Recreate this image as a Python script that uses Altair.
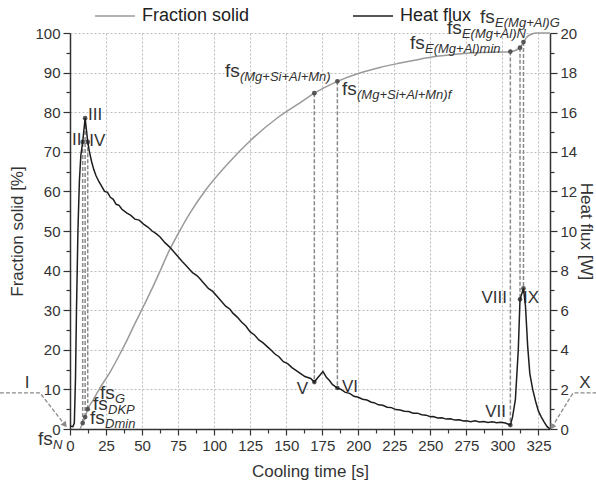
import altair as alt
import pandas as pd

FONT = "Liberation Sans"
GRAY = "#9a9a9a"
BLACK = "#1e1e1e"
DASH = "#8a8a8a"
TXT = "#333333"

series_names = ["Fraction solid", "Heat flux"]

# Fraction solid curve: cooling time [s] -> fraction solid [%]
fs_time = [7, 8.8, 10.5, 12.3, 16, 20, 28, 34, 39.5, 45, 51, 57, 62.5, 68, 75, 83, 94,
           109, 125, 144, 160, 169.5, 185.5, 201, 215, 229, 240, 252, 264, 275, 287,
           298, 305.5, 312.2, 314.6, 317, 320, 324, 333]
fs_vals = [0, 1.5, 3, 5, 7.3, 9.9, 14.5, 18.5, 22.4, 26.6, 31, 35.5, 39.9, 44.4, 49.3,
           54.4, 60.3, 66.8, 72.8, 78.6, 82.5, 84.8, 87.8, 89.9, 91.3, 92.4, 93.2, 94,
           94.5, 94.9, 95.1, 95.2, 95.3, 96.3, 97.7, 99, 99.7, 100, 100]

# Heat flux curve: cooling time [s] -> heat flux [W]
hf_time = [0, 2, 3, 3.8, 4.5, 5.5, 6.5, 7.5, 8.8, 10.5, 12.3, 13.5, 15, 16.5, 18, 20,
           22, 24, 26, 28, 30, 32, 34, 36, 39.5, 42, 45, 48, 51, 54, 57, 60, 62.5, 66,
           69, 72, 75, 78, 80, 83, 85, 88, 90, 93, 96, 99, 102, 105, 108, 111, 113, 116,
           119, 122, 125, 128, 131, 134, 137, 140, 142, 145, 148, 151, 154, 157, 160,
           163, 165, 167, 169.5, 172, 175.5, 178, 180, 182, 185.5, 188, 191, 194, 197,
           200, 203, 206, 209, 211, 214, 217, 220, 223, 226, 229, 232, 235, 238, 241,
           244, 247, 250, 252, 255, 258, 261, 264, 267, 270, 273, 275, 278, 281, 284,
           287, 290, 293, 296, 299, 302, 305.5, 307, 309, 311, 312.2, 314.6, 316, 317.5,
           319, 321, 323, 325, 327, 329, 331, 333]
hf_vals = [0.15, 0.12, 0.3, 2.5, 6, 10, 12.5, 13.8, 14.5, 15.7, 14.5, 14.0, 13.5, 13.1,
           12.8, 12.5, 12.25, 12.0, 11.95, 11.7, 11.6, 11.35, 11.3, 11.1, 10.9, 10.8,
           10.6, 10.55, 10.35, 10.2, 10.0, 9.85, 9.7, 9.4, 9.2, 8.95, 8.7, 8.45, 8.3,
           8.05, 7.9, 7.75, 7.6, 7.35, 7.1, 6.95, 6.7, 6.45, 6.2, 6.05, 5.85, 5.65, 5.4,
           5.2, 4.9, 4.75, 4.5, 4.35, 4.15, 3.95, 3.8, 3.65, 3.4, 3.3, 3.1, 2.95, 2.8,
           2.65, 2.6, 2.55, 2.37, 2.6, 2.9, 2.6, 2.45, 2.25, 2.07, 2.0, 1.85, 1.8, 1.65,
           1.6, 1.5, 1.46, 1.35, 1.33, 1.22, 1.2, 1.1, 1.08, 0.98, 0.96, 0.9, 0.88, 0.8,
           0.8, 0.72, 0.7, 0.62, 0.63, 0.56, 0.57, 0.5, 0.52, 0.45, 0.47, 0.4, 0.42, 0.37,
           0.42, 0.36, 0.38, 0.33, 0.37, 0.32, 0.34, 0.3, 0.2, 0.6, 1.5, 4.0, 6.55, 7.1,
           6.2, 4.2, 2.8, 2.0, 1.4, 0.9, 0.6, 0.35, 0.12, 0.0]

# Characteristic points (fs point on the gray curve, matching point on the heat flux curve)
event_time = [8.8, 10.5, 12.3, 169.5, 185.5, 305.5, 312.2, 314.6]
event_fs = [1.5, 3, 5, 84.8, 87.8, 95.3, 96.3, 97.7]
event_hf = [14.5, 15.7, 14.5, 2.37, 2.07, 0.2, 6.55, 7.1]

# Axis domains / ticks
x_domain = [0, 333]
fs_domain = [0, 100]
hf_domain = [0, 20]
x_ticks = [i * 12.5 for i in range(27)]
fs_ticks = [i * 5 for i in range(21)]
hf_ticks = list(range(21))

# fs labels (main "fs" + subscript), anchored at the left/middle of "fs"
fs_sub = ["N", "Dmin", "DKP", "G", "(Mg+Si+Al+Mn)", "(Mg+Si+Al+Mn)f",
          "E(Mg+Al)min", "E(Mg+Al)N", "E(Mg+Al)G"]
fs_lab_t = [-22.2, 13.9, 15.95, 20.8, 107.5, 188.7, 235.9, 261.5, 284.5]
fs_lab_y = [-2.5, 2.8, 6.3, 9.1, 90.4, 85.9, 97.5, 101.3, 104.0]

# Roman numeral labels, grouped by alignment
rom_left = ["III", "IV", "VI", "IX"]
rom_left_t = [12.5, 13.4, 188.7, 314.3]
rom_left_y = [79.3, 72.7, 10.6, 33.1]
rom_right = ["II", "VII", "VIII"]
rom_right_t = [8.0, 302.5, 303.2]
rom_right_y = [73, 4.3, 33.1]
rom_center = ["I", "V", "X"]
rom_center_t = [-29.8, 161.3, 357.3]
rom_center_y = [11.6, 10.1, 11.6]

# Leader arrows for I and X
arrow_I_t = [-48.6, -20.8, -3.5]
arrow_I_y = [9.1, 9.1, 1.0]
arrow_X_t = [365.3, 349.0, 334.4]
arrow_X_y = [9.1, 9.1, 0.5]

ratio = (fs_domain[1] - fs_domain[0]) / (hf_domain[1] - hf_domain[0])

fs_df = pd.DataFrame({"t": fs_time, "v": fs_vals, "series": series_names[0]})
hf_df = pd.DataFrame({"t": hf_time, "v": hf_vals, "series": series_names[1]})
ev_df = pd.DataFrame({"t": event_time, "fs": event_fs,
                      "hfs": [h * ratio for h in event_hf]})
lab_df = pd.DataFrame({"t": fs_lab_t, "y": fs_lab_y, "sub": fs_sub, "fs": "fs"})
rl_df = pd.DataFrame({"t": rom_left_t, "y": rom_left_y, "txt": rom_left})
rr_df = pd.DataFrame({"t": rom_right_t, "y": rom_right_y, "txt": rom_right})
rc_df = pd.DataFrame({"t": rom_center_t, "y": rom_center_y, "txt": rom_center})
arr_df = pd.DataFrame({"t": arrow_I_t + arrow_X_t, "y": arrow_I_y + arrow_X_y,
                       "k": ["I"] * 3 + ["X"] * 3, "o": [0, 1, 2] * 2})

x_enc = alt.X("t:Q", scale=alt.Scale(domain=x_domain, nice=False, zero=False),
              axis=alt.Axis(values=x_ticks, title="Cooling time [s]",
                            labelExpr="datum.value % 25 === 0 ? datum.label : ''",
                            tickSize={"condition": {"test": "datum.value % 25 === 0", "value": 6}, "value": 4},
                            gridOpacity={"condition": {"test": "datum.value % 25 === 0", "value": 1}, "value": 0},
                            labelPadding=3, titlePadding=10, labelFlush=False))

fs_scale = alt.Scale(domain=fs_domain, nice=False, zero=False)
y_fs_axis = alt.Axis(values=fs_ticks, title="Fraction solid [%]",
                     labelExpr="datum.value % 10 === 0 ? datum.label : ''",
                     tickSize={"condition": {"test": "datum.value % 10 === 0", "value": 7}, "value": 4},
                     gridOpacity={"condition": {"test": "datum.value % 10 === 0", "value": 1}, "value": 0},
                     labelPadding=3, titlePadding=8)

color_enc = alt.Color("series:N",
                      scale=alt.Scale(domain=series_names, range=[GRAY, BLACK]),
                      legend=alt.Legend(orient="none", legendX=24, legendY=-38,
                                        direction="horizontal", title=None,
                                        symbolType="stroke", symbolSize=1600,
                                        symbolStrokeWidth=1.5, labelFontSize=18,
                                        labelFont=FONT, labelColor="#222",
                                        columnPadding=100, labelOffset=6))

fs_line = alt.Chart(fs_df).mark_line(strokeWidth=1.5, interpolate="monotone").encode(
    x=x_enc, y=alt.Y("v:Q", scale=fs_scale, axis=y_fs_axis), color=color_enc)

rules = alt.Chart(ev_df).mark_rule(color=DASH, strokeDash=[4, 2], strokeWidth=1.5).encode(
    x=x_enc, y=alt.Y("fs:Q", scale=fs_scale, axis=y_fs_axis), y2="hfs:Q")

pts_fs = alt.Chart(ev_df).mark_circle(size=22, color="#555", opacity=1).encode(
    x=x_enc, y=alt.Y("fs:Q", scale=fs_scale, axis=y_fs_axis))
pts_hf = alt.Chart(ev_df).mark_circle(size=22, color="#555", opacity=1).encode(
    x=x_enc, y=alt.Y("hfs:Q", scale=fs_scale, axis=y_fs_axis))

arrows = alt.Chart(arr_df).mark_line(color=DASH, strokeDash=[4, 2], strokeWidth=1.3, clip=False).encode(
    x=x_enc, y=alt.Y("y:Q", scale=fs_scale, axis=y_fs_axis), detail="k:N", order="o:Q")
head_I = alt.Chart(arr_df).transform_filter("datum.k === 'I' && datum.o === 2").mark_point(
    shape="triangle-up", filled=True, size=45, color=DASH, opacity=1, angle=142, clip=False).encode(
    x=x_enc, y=alt.Y("y:Q", scale=fs_scale, axis=y_fs_axis))
head_X = alt.Chart(arr_df).transform_filter("datum.k === 'X' && datum.o === 2").mark_point(
    shape="triangle-up", filled=True, size=45, color=DASH, opacity=1, angle=212, clip=False).encode(
    x=x_enc, y=alt.Y("y:Q", scale=fs_scale, axis=y_fs_axis))

fs_txt = alt.Chart(lab_df).mark_text(align="left", baseline="middle", font=FONT,
                                     fontSize=19, color=TXT).encode(
    x=x_enc, y=alt.Y("y:Q", scale=fs_scale, axis=y_fs_axis), text="fs:N")
sub_txt = alt.Chart(lab_df).mark_text(align="left", baseline="middle", font=FONT,
                                      fontSize=13, fontStyle="italic", color=TXT,
                                      dx=15, dy=6).encode(
    x=x_enc, y=alt.Y("y:Q", scale=fs_scale, axis=y_fs_axis), text="sub:N")

def roman(df, align):
    return alt.Chart(df).mark_text(align=align, baseline="middle", font=FONT,
                                   fontSize=17, color=TXT).encode(
        x=x_enc, y=alt.Y("y:Q", scale=fs_scale, axis=y_fs_axis), text="txt:N")

left_layer = alt.layer(fs_line, rules, arrows, head_I, head_X, pts_fs, pts_hf,
                       fs_txt, sub_txt, roman(rl_df, "left"), roman(rr_df, "right"),
                       roman(rc_df, "center"))

hf_line = alt.Chart(hf_df).mark_line(strokeWidth=1.5).encode(
    x=x_enc,
    y=alt.Y("v:Q", scale=alt.Scale(domain=hf_domain, nice=False, zero=False),
            axis=alt.Axis(values=hf_ticks, title="Heat flux [W]", orient="right",
                          grid=False, titleAngle=90,
                          labelExpr="datum.value % 2 === 0 ? datum.label : ''",
                          tickSize={"condition": {"test": "datum.value % 2 === 0", "value": 7}, "value": 4},
                          labelPadding=3, titlePadding=0)),
    color=color_enc)

chart = alt.layer(left_layer, hf_line).resolve_scale(y="independent").properties(
    width=480, height=396,
    autosize=alt.AutoSizeParams(type="none"),
    padding={"left": 70, "top": 33, "right": 46, "bottom": 62},
    background="white",
).configure_axis(
    labelFont=FONT, titleFont=FONT, labelFontSize=15, titleFontSize=17,
    titleFontWeight="normal", labelColor=TXT, titleColor=TXT,
    domainColor="#333", tickColor="#333", domainWidth=1.5, tickWidth=1.2,
    gridColor="#bdbdbd", gridDash=[2, 2], gridWidth=1,
).configure_view(stroke=None)

chart.save("out.html", embed_options={"renderer": "svg", "actions": False})
